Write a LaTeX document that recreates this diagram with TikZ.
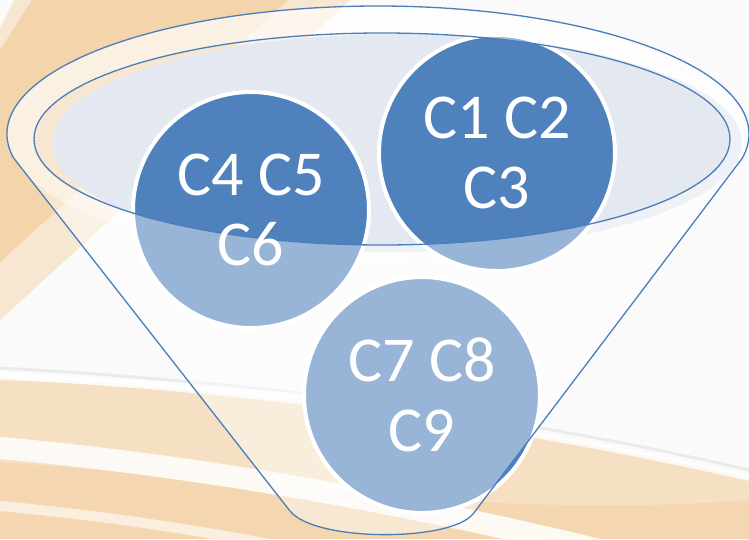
\documentclass[tikz,border=0pt]{standalone}
\usepackage{fontspec}
\setmainfont{Carlito}
\definecolor{dkblue}{HTML}{4F81BD}
\definecolor{lnblue}{HTML}{4A7EBB}
\definecolor{orng}{HTML}{F4CF9F}
\definecolor{bgw}{HTML}{FAFAFA}
\definecolor{opening}{HTML}{E3E8F1}
\tikzset{
  circ/.style={circle, minimum size=236pt, inner sep=0pt, fill=dkblue, draw=white, line width=4pt},
  lbl/.style={text=white, align=center, inner sep=0pt, font=\fontsize{64}{70}\selectfont},
  funnelline/.style={draw=lnblue, line width=1.3pt, line join=round}
}
\begin{document}
\begin{tikzpicture}[x=1pt,y=-1pt]
\useasboundingbox (0,0) rectangle (749,539);
% ---- background
\fill[bgw] (0,0) rectangle (749,539);
\fill[orng,opacity=0.45] (14,0) -- (350,0) -- (0,320) -- (0,28) -- cycle;
\fill[orng,opacity=0.75] (32,0) -- (288,0) -- (0,262) -- (0,50) -- cycle;
\fill[orng,opacity=0.6] (0,376) .. controls (300,392) and (550,432) .. (749,478) -- (749,539) -- (0,539) -- cycle;
\fill[orng,opacity=0.5] (0,462) .. controls (250,480) and (500,520) .. (749,500) -- (749,539) -- (0,539) -- cycle;
\draw[white, line width=22pt, opacity=0.85] (-10,447) .. controls (250,470) and (480,520) .. (640,560);
\draw[white, line width=10pt, opacity=0.6] (-10,505) .. controls (100,515) and (200,530) .. (300,550);
\draw[black!8, line width=3pt] (0,368) .. controls (300,384) and (550,424) .. (749,470);
\draw[white, line width=6pt, opacity=0.8] (0,376) .. controls (300,392) and (550,432) .. (749,478);
\fill[white,opacity=0.6] (0,380) .. controls (150,386) and (250,395) .. (330,405) -- (330,396) .. controls (200,384) and (100,376) .. (0,372) -- cycle;
% ---- funnel opening
\fill[white,opacity=0.45] (378,134) ellipse [x radius=371pt, y radius=128pt];
\fill[opening] (397,143) ellipse [x radius=345pt, y radius=109pt];
% ---- circles
\node[circ] (k1) at (497,153) {};
\node[circ] (k2) at (251,210) {};
\node[circ] (k3) at (422,395) {};
% ---- translucent funnel body
\coordinate (lb) at (290,511);
\coordinate (rb) at (473,514);
\fill[white, opacity=0.42, even odd rule]
  (378,134) ++(190.8:371pt and 128pt) coordinate (ls)
  arc[start angle=190.8, end angle=-10.8, x radius=371pt, y radius=128pt] coordinate (rs)
  -- (rb) .. controls (450,542) and (315,542) .. (lb) -- cycle
  (382,139) ellipse [x radius=348pt, y radius=106pt];
% ---- outlines
\draw[funnelline] (ls) arc[start angle=190.8, end angle=-10.8, x radius=371pt, y radius=128pt]
  -- (rb) .. controls (450,542) and (315,542) .. (lb) -- (ls);
\draw[funnelline] (382,139) ellipse [x radius=348pt, y radius=106pt];
% ---- labels
\node[lbl] (t1) at (k1) {C1 C2\\C3};
\node[lbl] (t2) at (k2) {C4 C5\\C6};
\node[lbl] (t3) at (k3) {C7 C8\\C9};
\end{tikzpicture}
\end{document}
